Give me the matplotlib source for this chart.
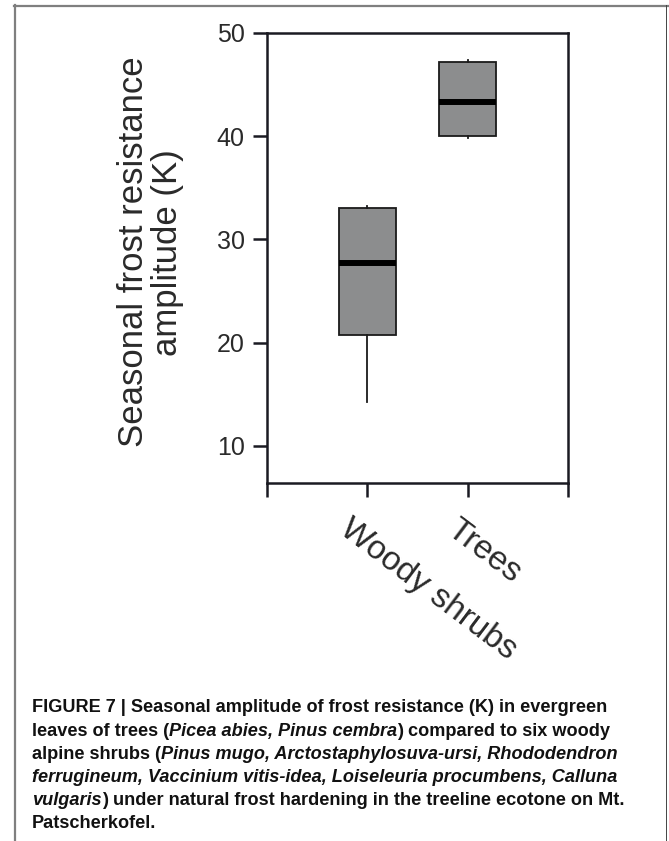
import matplotlib
matplotlib.use("Agg")
import matplotlib.pyplot as plt
from matplotlib import font_manager
from matplotlib.lines import Line2D
from matplotlib.transforms import ScaledTranslation

# box statistics (K)
groups = ["Woody shrubs", "Trees"]
whis_lo = [14.2, 39.8]
q1 = [20.7, 40.0]
med = [27.7, 43.3]
q3 = [33.0, 47.2]
whis_hi = [33.2, 47.4]

yticks = [10, 20, 30, 40, 50]

caption = [
    [("FIGURE 7 | Seasonal amplitude of frost resistance (K) in evergreen", "normal")],
    [("leaves of trees (", "normal"), ("Picea abies, Pinus cembra", "italic"),
     (") compared to six woody", "normal")],
    [("alpine shrubs (", "normal"),
     ("Pinus mugo, Arctostaphylosuva-ursi, Rhododendron", "italic")],
    [("ferrugineum, Vaccinium vitis-idea, Loiseleuria procumbens, Calluna", "italic")],
    [("vulgaris", "italic"), (") under natural frost hardening in the treeline ecotone on Mt.", "normal")],
    [("Patscherkofel.", "normal")],
]


def has_font(name):
    try:
        font_manager.findfont(font_manager.FontProperties(family=name), fallback_to_default=False)
        return True
    except Exception:
        return False


plt.rcParams['font.family'] = ['Liberation Sans', 'DejaVu Sans']
cap_font = 'Liberation Sans Narrow' if has_font('Liberation Sans Narrow') else 'Liberation Sans'

W, H = 669, 841
fig = plt.figure(figsize=(W / 100, H / 100), dpi=100)
ax = fig.add_axes([267 / W, 1 - 483 / H, 301 / W, 450 / H])

stats = []
for i in range(len(groups)):
    stats.append({"whislo": whis_lo[i], "q1": q1[i], "med": med[i],
                  "q3": q3[i], "whishi": whis_hi[i], "fliers": []})

ax.bxp(stats, positions=[1, 2], widths=0.565, patch_artist=True,
       showcaps=False, showfliers=False,
       boxprops=dict(facecolor="#8c8d8e", edgecolor="#1a1a1a", linewidth=1.3),
       medianprops=dict(color="black", linewidth=4.3, solid_capstyle="butt"),
       whiskerprops=dict(color="#1a1a1a", linewidth=1.3))

ax.set_xlim(0, 3)
ax.set_ylim(6.4, 50)
ax.set_yticks(yticks)
ax.set_xticks([0, 1, 2, 3])
ax.set_xticklabels(["", groups[0], groups[1], ""])

for s in ax.spines.values():
    s.set_linewidth(1.8)
    s.set_color("#1a1a22")

ax.tick_params(axis="both", length=10, width=1.8, color="#1a1a22")
ax.tick_params(axis="y", labelsize=18, labelcolor="#2a2a2a", pad=6)
ax.tick_params(axis="x", labelsize=24, labelcolor="#2a2a2a", pad=12)

shifts = [0, -15, -8, 0]
for lab, dx in zip(ax.get_xticklabels(), shifts):
    lab.set_rotation(-37)
    lab.set_ha("left")
    lab.set_va("top")
    lab.set_rotation_mode("anchor")
    lab.set_transform(lab.get_transform() + ScaledTranslation(dx / 100, 0, fig.dpi_scale_trans))

ax.set_ylabel("Seasonal frost resistance\namplitude (K)", fontsize=25,
              color="#2a2a2a", linespacing=1.05)
ax.yaxis.set_label_coords(-0.275, 0.513)

# page frame
frame_c = "#7f7f7f"
fig.add_artist(Line2D([14 / W, 1], [1 - 5.5 / H, 1 - 5.5 / H], color=frame_c, lw=1.6,
                      transform=fig.transFigure))
fig.add_artist(Line2D([14.5 / W, 14.5 / W], [0, 1 - 5 / H], color=frame_c, lw=1.6,
                      transform=fig.transFigure))
fig.add_artist(Line2D([666 / W, 666 / W], [0, 1 - 5 / H], color="#444444", lw=0.7,
                      transform=fig.transFigure))

# caption, built segment by segment
renderer = fig.canvas.get_renderer()
base = 712.5
for k, line in enumerate(caption):
    x = 32.0
    y = base + k * 23.1
    for txt, style in line:
        t = fig.text(x / W, 1 - y / H, txt, fontsize=13.1, fontweight="bold",
                     style=style, family=cap_font, color="#111111",
                     ha="left", va="baseline")
        bb = t.get_window_extent(renderer=renderer)
        x += bb.width

fig.savefig("out.png", dpi=100)
